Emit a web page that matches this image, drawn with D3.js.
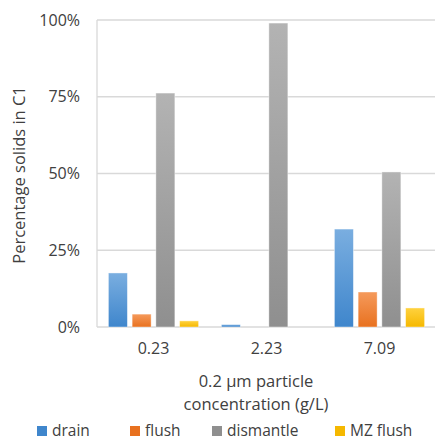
<!DOCTYPE html>
<html>
<head>
<meta charset="utf-8">
<script src="https://cdn.jsdelivr.net/npm/d3@7"></script>
<style>
  body { margin: 0; background: #fff; overflow: hidden; }
  text { font-family: "Open Sans", "Liberation Sans", sans-serif; fill: #404040; }
</style>
</head>
<body>
<script>
// chart data
var categories = ["0.23", "2.23", "7.09"];
var seriesNames = ["drain", "flush", "dismantle", "MZ flush"];
var drain = [0.176, 0.008, 0.319];
var flush = [0.042, 0, 0.114];
var dismantle = [0.762, 0.99, 0.505];
var mzFlush = [0.02, 0, 0.062];
var yTicks = [0, 0.25, 0.5, 0.75, 1];

var values = [drain, flush, dismantle, mzFlush];
var colors = [
    ["#7aaee0", "#3f86cc"],
    ["#f59a5c", "#e8711f"],
    ["#b3b3b3", "#8f8f8f"],
    ["#ffd23f", "#f5b800"]
];

var width = 435, height = 441;
var margin = { top: 20, right: -1, bottom: 114, left: 97 };
var innerW = width - margin.left - margin.right;
var innerH = height - margin.top - margin.bottom;

var svg = d3.select("body").append("svg")
    .attr("width", width)
    .attr("height", height);

// gradients for the bars
var defs = svg.append("defs");
colors.forEach(function(c, i) {
    var g = defs.append("linearGradient")
        .attr("id", "grad" + i)
        .attr("x1", 0).attr("y1", 0).attr("x2", 0).attr("y2", 1);
    g.append("stop").attr("offset", "0%").attr("stop-color", c[0]);
    g.append("stop").attr("offset", "100%").attr("stop-color", c[1]);
});

var g = svg.append("g")
    .attr("transform", "translate(" + margin.left + "," + margin.top + ")");

var x = d3.scaleBand().domain(categories).range([0, innerW]).paddingInner(0).paddingOuter(0);
var x1 = d3.scaleBand().domain(seriesNames).range([0, x.bandwidth()]).paddingInner(0.2).paddingOuter(0.48);
var y = d3.scaleLinear().domain([0, 1]).range([innerH, 0]);

// gridlines
g.selectAll(".grid")
    .data(yTicks)
    .enter().append("line")
    .attr("x1", 0).attr("x2", innerW)
    .attr("y1", function(d) { return y(d); })
    .attr("y2", function(d) { return y(d); })
    .attr("stroke", "#d9d9d9")
    .attr("stroke-width", 1.3);

// left plot border
g.append("line")
    .attr("x1", 0).attr("x2", 0)
    .attr("y1", y(1)).attr("y2", y(0))
    .attr("stroke", "#d9d9d9")
    .attr("stroke-width", 1.3);

// bars
var groups = g.selectAll(".grp")
    .data(categories)
    .enter().append("g")
    .attr("transform", function(d) { return "translate(" + x(d) + ",0)"; });

groups.selectAll("rect")
    .data(function(d, ci) {
        return seriesNames.map(function(s, si) { return { s: s, si: si, v: values[si][ci] }; });
    })
    .enter().append("rect")
    .filter(function(d) { return d.v > 0; })
    .attr("x", function(d) { return x1(d.s); })
    .attr("width", x1.bandwidth())
    .attr("y", function(d) { return y(d.v); })
    .attr("height", function(d) { return y(0) - y(d.v); })
    .attr("fill", function(d) { return "url(#grad" + d.si + ")"; })
    .attr("stroke", "#ffffff")
    .attr("stroke-opacity", 0.5)
    .attr("stroke-width", 0.8);

// y axis labels
var yAxis = g.append("g")
    .call(d3.axisLeft(y).tickValues(yTicks).tickFormat(d3.format(".0%")).tickSize(0).tickPadding(17));
yAxis.select(".domain").remove();
yAxis.selectAll("text")
    .style("font-size", "16px")
    .style("font-family", "'Open Sans', sans-serif")
    .attr("fill", "#404040");

// x axis labels
var xAxis = g.append("g")
    .attr("transform", "translate(0," + innerH + ")")
    .call(d3.axisBottom(x).tickSize(0).tickPadding(16));
xAxis.select(".domain").remove();
xAxis.selectAll("text")
    .style("font-size", "16px")
    .style("font-family", "'Open Sans', sans-serif")
    .attr("fill", "#404040");

// axis titles
svg.append("text")
    .attr("transform", "translate(25,175) rotate(-90)")
    .attr("text-anchor", "middle")
    .style("font-size", "16.5px")
    .text("Percentage solids in C1");

svg.append("text")
    .attr("x", 256)
    .attr("y", 387)
    .attr("text-anchor", "middle")
    .style("font-size", "16.5px")
    .text("0.2 \u00b5m particle");

svg.append("text")
    .attr("x", 256)
    .attr("y", 410)
    .attr("text-anchor", "middle")
    .style("font-size", "16.5px")
    .text("concentration (g/L)");

// legend
var legendX = [37, 130, 212, 335];
var legend = svg.selectAll(".legend")
    .data(seriesNames)
    .enter().append("g")
    .attr("transform", function(d, i) { return "translate(" + legendX[i] + ",426)"; });

legend.append("rect")
    .attr("width", 10).attr("height", 10)
    .attr("fill", function(d, i) { return colors[i][1]; });

legend.append("text")
    .attr("x", 15).attr("y", 10)
    .style("font-size", "15.5px")
    .text(function(d) { return d; });
</script>
</body>
</html>
